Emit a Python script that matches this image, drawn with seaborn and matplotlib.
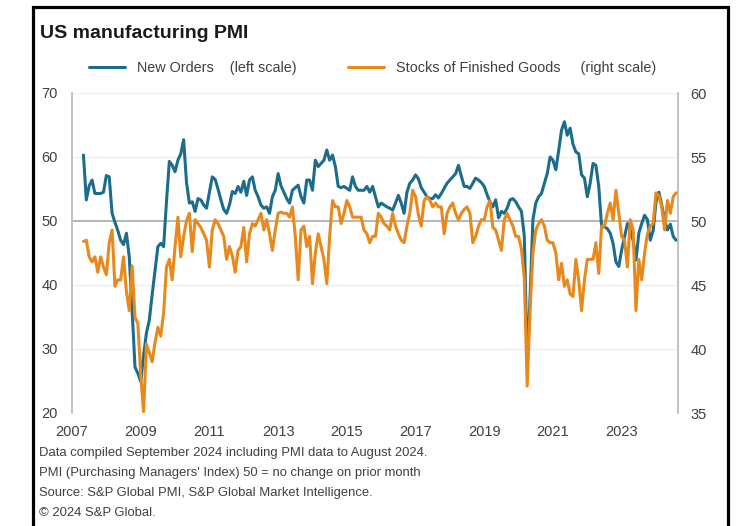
import matplotlib
matplotlib.use("Agg")
import matplotlib.pyplot as plt
from matplotlib.lines import Line2D
from matplotlib.patches import Rectangle
import numpy as np
import pandas as pd
import seaborn as sns

# Monthly index readings, May 2007 - Aug 2024 (one row per calendar year)
new_orders = [
    60.3, 53.3, 55.5, 56.4, 54.3, 54.3, 54.3, 54.5,
    57.1, 56.9, 51.2, 49.8, 48.5, 47.0, 46.3, 48.1, 44.4, 36.1, 27.2, 26.2,
    24.9, 29.0, 32.5, 34.5, 38.5, 42.3, 46.0, 46.5, 46.0, 53.0, 59.3, 58.7,
    57.7, 59.5, 60.5, 62.7, 56.0, 52.8, 53.0, 51.5, 53.5, 53.3, 52.5, 52.0,
    54.5, 56.9, 56.5, 55.0, 53.3, 51.8, 51.2, 52.5, 54.6, 54.3, 55.4, 54.5,
    56.2, 54.0, 56.4, 56.9, 54.8, 53.8, 52.5, 52.0, 52.2, 51.2, 53.8, 54.8,
    57.4, 55.5, 54.5, 53.5, 52.8, 54.8, 55.2, 55.6, 53.8, 52.8, 56.4, 56.4,
    54.8, 59.5, 58.5, 59.0, 59.5, 61.1, 59.5, 60.3, 58.5, 55.4, 55.2, 55.4,
    55.1, 54.8, 56.9, 55.4, 54.8, 54.8, 54.8, 55.4, 54.5, 55.4, 53.8, 52.2,
    52.8, 52.5, 52.2, 52.0, 51.7, 52.8, 54.0, 52.8, 51.2, 54.5, 55.9, 56.4,
    57.2, 56.6, 55.2, 54.5, 53.8, 53.5, 53.5, 54.1, 53.6, 54.3, 55.1, 55.9,
    56.4, 56.9, 57.4, 58.7, 57.0, 55.4, 55.4, 55.1, 55.9, 56.7, 56.4, 56.0,
    55.4, 54.1, 53.0, 52.2, 53.3, 50.5, 51.5, 51.2, 52.0, 53.3, 53.5, 53.0,
    52.2, 51.5, 47.6, 27.5, 38.0, 50.2, 52.8, 53.8, 54.3, 55.9, 57.4, 60.0,
    59.5, 58.0, 61.0, 64.2, 65.5, 63.4, 64.5, 62.0, 60.8, 60.5, 57.2, 56.7,
    53.8, 55.9, 59.0, 58.7, 55.4, 49.1, 49.1, 48.8, 48.1, 46.5, 43.6, 42.9,
    45.5, 47.5, 49.6, 48.6, 47.0, 43.9, 48.1, 49.6, 50.9, 50.2, 47.0, 48.5,
    53.0, 54.5, 52.5, 50.2, 48.6, 49.5, 47.6, 47.0,
]

stocks_finished = [
    48.4, 48.5, 47.2, 46.8, 47.2, 46.0, 47.2, 46.4,
    45.8, 48.3, 49.3, 44.9, 45.4, 45.4, 47.2, 44.5, 43.0, 46.5, 42.5, 42.0,
    38.0, 35.1, 40.4, 39.7, 39.0, 40.5, 41.7, 41.0, 42.8, 46.4, 47.0, 45.4,
    48.0, 50.3, 47.2, 48.8, 50.0, 50.6, 47.6, 50.1, 49.8, 49.5, 49.0, 48.5,
    46.4, 49.3, 50.1, 49.8, 49.3, 48.8, 47.0, 48.0, 47.3, 46.0, 47.7, 48.0,
    49.5, 46.8, 49.0, 49.8, 49.6, 50.1, 50.6, 49.3, 50.1, 49.0, 47.7, 49.3,
    50.6, 50.7, 50.6, 50.6, 50.3, 51.1, 48.8, 45.4, 49.3, 49.6, 48.0, 48.8,
    45.1, 47.5, 49.0, 48.0, 47.0, 45.1, 48.8, 51.6, 51.1, 51.1, 49.8, 50.6,
    51.6, 51.1, 50.3, 50.3, 50.3, 50.3, 49.3, 49.0, 48.3, 48.8, 48.8, 50.6,
    50.3, 49.8, 49.6, 49.3, 50.6, 49.6, 49.0, 48.5, 48.3, 49.6, 50.6, 52.4,
    51.9, 50.5, 49.6, 51.6, 51.9, 51.6, 51.1, 51.4, 51.1, 51.1, 49.0, 50.6,
    51.1, 51.4, 50.6, 50.1, 50.6, 50.9, 51.1, 50.6, 48.3, 48.8, 49.6, 50.1,
    50.1, 51.1, 51.6, 49.5, 49.3, 48.5, 47.7, 50.1, 50.6, 50.1, 49.6, 48.8,
    48.8, 47.8, 45.5, 37.1, 43.0, 47.5, 49.3, 49.8, 50.1, 49.6, 48.5, 48.3,
    48.3, 47.5, 45.4, 46.7, 44.9, 45.4, 44.3, 44.1, 47.0, 45.4, 43.0, 45.4,
    47.0, 47.0, 47.0, 48.3, 45.9, 49.6, 49.6, 50.6, 51.4, 50.1, 52.4, 50.6,
    48.8, 48.5, 46.4, 50.1, 49.3, 43.0, 47.0, 45.4, 47.5, 49.0, 49.6, 49.8,
    52.2, 52.0, 51.1, 49.3, 51.6, 50.6, 51.9, 52.2,
]

first_month = "2007-05-01"
year_ticks = [2007, 2009, 2011, 2013, 2015, 2017, 2019, 2021, 2023]
left_ticks = [20, 30, 40, 50, 60, 70]
right_ticks = [35, 40, 45, 50, 55, 60]

title = "US manufacturing PMI"
label_orders = "New Orders    (left scale)"
label_stocks = "Stocks of Finished Goods     (right scale)"
footnotes = [
    "Data compiled September 2024 including PMI data to August 2024.",
    "PMI (Purchasing Managers' Index) 50 = no change on prior month",
    "Source: S&P Global PMI, S&P Global Market Intelligence.",
    "\u00a9 2024 S&P Global.",
]

BLUE = "#1b6d8b"
ORANGE = "#e8891d"
TEXT = "#404040"
AXIS_GREY = "#bdbdbd"

dates = pd.date_range(first_month, periods=len(new_orders), freq="MS")
df = pd.DataFrame({
    "year": dates.year + (dates.month - 1) / 12.0,
    "new_orders": new_orders,
    "stocks": stocks_finished,
})

sns.set_theme(style="white")
plt.rcParams["font.family"] = ["Liberation Sans", "DejaVu Sans"]

W, H = 739, 526
fig = plt.figure(figsize=(W / 100, H / 100), dpi=100)
fig.patch.set_facecolor("white")

ax = fig.add_axes([72 / W, 1 - 413 / H, (678 - 72) / W, (413 - 93) / H])
ax2 = ax.twinx()

# light horizontal guides, with the 50 (no change) line emphasised
for v in left_ticks:
    if v == 50:
        ax.axhline(v, color="#a3a3a3", lw=1.1, zorder=1)
    else:
        ax.axhline(v, color="#efefef", lw=0.9, zorder=0)

sns.lineplot(data=df, x="year", y="new_orders", ax=ax, color=BLUE,
             linewidth=2.2, legend=False, zorder=3)
sns.lineplot(data=df, x="year", y="stocks", ax=ax2, color=ORANGE,
             linewidth=2.2, legend=False, zorder=3)

ax.set_xlim(2007.0, 2024.64)
ax.set_ylim(20, 70)
ax2.set_ylim(35, 60)

ax.set_xticks(year_ticks)
ax.set_xticklabels([str(y) for y in year_ticks])
ax.set_yticks(left_ticks)
ax2.set_yticks(right_ticks)

for a in (ax, ax2):
    a.set_xlabel("")
    a.set_ylabel("")
    a.grid(False)
    for s in a.spines.values():
        s.set_visible(False)

ax.spines["left"].set_visible(True)
ax.spines["left"].set_color(AXIS_GREY)
ax.spines["left"].set_linewidth(1.3)
ax2.spines["right"].set_visible(True)
ax2.spines["right"].set_color(AXIS_GREY)
ax2.spines["right"].set_linewidth(1.3)

ax.tick_params(axis="x", length=0, pad=9, labelsize=10.5, labelcolor=TEXT)
ax.tick_params(axis="y", length=0, pad=10, labelsize=10.5, labelcolor=TEXT)
ax2.tick_params(axis="y", length=0, pad=9, labelsize=10.5, labelcolor=TEXT)

# title and legend
fig.text(40 / W, 1 - 34 / H, title, ha="left", va="center",
         fontsize=14, fontweight="bold", color="#1a1a1a")

handles = [
    Line2D([], [], color=BLUE, lw=2.2),
    Line2D([], [], color=ORANGE, lw=2.2),
]
fig.legend(handles, [label_orders, label_stocks], loc="center left",
           bbox_to_anchor=(89 / W, 1 - 68 / H), ncol=2, frameon=False,
           fontsize=10.4, handlelength=2.5, handletextpad=0.85,
           columnspacing=3.5, borderpad=0, borderaxespad=0,
           labelcolor=TEXT)

# source notes
for i, line in enumerate(footnotes):
    fig.text(39 / W, 1 - (453 + 20 * i) / H, line, ha="left", va="center",
             fontsize=9.4, color=TEXT)

# black frame around the whole graphic (open at the bottom edge)
fig.patches.append(Rectangle((33 / W, -0.05), (728 - 33) / W, 1.05 - 7 / H,
                             transform=fig.transFigure, fill=False,
                             edgecolor="black", linewidth=2.3))

fig.savefig("out.png", dpi=100, facecolor="white")
